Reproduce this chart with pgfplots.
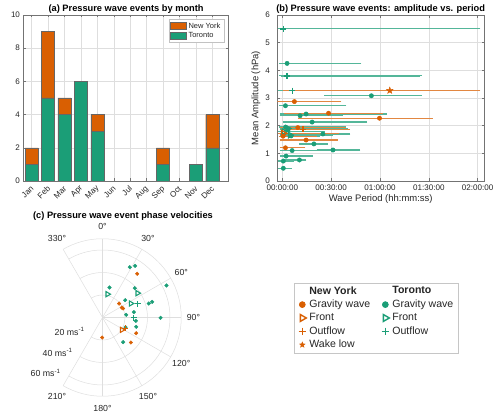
\documentclass[border=0pt]{standalone}
\usepackage{pgfplots}
\pgfplotsset{compat=1.18}
\usepackage{pgfplotstable}
\usetikzlibrary{calc}
\usepackage{fontspec}
\setmainfont{Liberation Sans}
\definecolor{tor}{HTML}{1B9E77}
\definecolor{ny}{HTML}{D95F02}
\definecolor{txt}{gray}{0.15}
\definecolor{gridc}{gray}{0.87}
\definecolor{axc}{gray}{0.45}

\pgfdeclareplotmark{fstar}{%
  \pgfpathmoveto{\pgfpointpolar{90}{\pgfplotmarksize}}%
  \pgfpathlineto{\pgfpointpolar{126}{0.42\pgfplotmarksize}}%
  \pgfpathlineto{\pgfpointpolar{162}{\pgfplotmarksize}}%
  \pgfpathlineto{\pgfpointpolar{198}{0.42\pgfplotmarksize}}%
  \pgfpathlineto{\pgfpointpolar{234}{\pgfplotmarksize}}%
  \pgfpathlineto{\pgfpointpolar{270}{0.42\pgfplotmarksize}}%
  \pgfpathlineto{\pgfpointpolar{306}{\pgfplotmarksize}}%
  \pgfpathlineto{\pgfpointpolar{342}{0.42\pgfplotmarksize}}%
  \pgfpathlineto{\pgfpointpolar{18}{\pgfplotmarksize}}%
  \pgfpathlineto{\pgfpointpolar{54}{0.42\pgfplotmarksize}}%
  \pgfpathclose
  \pgfusepathqfillstroke}

% ---- panel (a): events per month (1=Jan ... 12=Dec)
\pgfplotstableread{
m tor ny
1 1 1
2 5 4
3 4 1
4 6 0
5 3 1
6 0 0
7 0 0
8 0 0
9 1 1
10 0 0
11 1 0
12 2 2
}\monthly

% ---- panel (b): period (min), amplitude (hPa), error-bar extent lo/hi (min)
\pgfplotstableread{
x y lo hi
2.9 4.25 -1.0 47.5
54.7 3.08 27.0 84.6
1.9 2.72 -0.8 38.3
14.6 2.42 -0.4 63.2
10.9 2.36 -0.5 36
18.3 2.13 1.2 51
2.0 1.95 -1.0 38
3.5 1.85 -0.5 40
24.9 1.70 0.6 40.7
5.4 1.63 0.5 22
19.4 1.34 11.5 27
31.1 1.12 22.2 46.9
6.0 1.10 -0.4 26.3
2.3 0.90 -0.5 17.5
10.5 0.76 1.0 13.6
0.6 0.72 -1.8 6
0.6 0.46 -1.5 4.7
}\torgrav
\pgfplotstableread{
x y lo hi
3.3 1.90 -0.5 39
4.75 1.66 -0.5 30
1.0 1.78 -1.5 25
}\torfront
\pgfplotstableread{
x y lo hi
0.6 5.5 -1.85 120.6
2.9 3.80 -1.0 84.6
6.2 3.27 -1.4 112.4
}\torout
\pgfplotstableread{
x y lo hi
7.4 2.87 -1.9 35.2
28.4 2.45 2.3 60.9
59.7 2.27 10.5 91.2
9.5 1.93 -0.5 38
14.6 1.48 -0.5 32.9
1.9 1.20 -0.5 13
0.5 1.62 -1.0 20
}\nygrav
\pgfplotstableread{
x y lo hi
0.6 1.72 -1.5 34
}\nyfront
\pgfplotstableread{
x y lo hi
12.6 1.87 2 40.5
}\nyout
\pgfplotstableread{
x y lo hi
66 3.27 1.2 120.6
}\nywake

% ---- panel (c): direction (deg, clockwise from north), speed (m/s)
\pgfplotstableread{
th r
28.5 50.9
32.3 54.3
13.1 27.4
47.8 38.8
63.4 63.6
52.6 25.4
73.2 43.0
72.5 46.3
80.3 28.3
83.6 21.2
95.7 29.8
90.3 51.6
105.5 31.1
112.8 22.2
140 28.6
}\ptorgrav
\pgfplotstableread{
th r
12.1 21.2
55.2 37.9
63.7 28.1
}\ptorfront
\pgfplotstableread{
th r
68.9 33.7
90.6 27.9
}\ptorout
\pgfplotstableread{
th r
38.4 49.6
50 19.3
62.7 19.3
66.5 20
115 33
181 17.8
131.4 33.6
}\pnygrav
\pgfplotstableread{
th r
122.5 20.4
}\pnyfront
\pgfplotstableread{
th r
115 22.5
}\pnyout

\pgfplotsset{
  myax/.style={
    scale only axis,
    anchor=south west,
    /pgf/number format/assume math mode=true,
    tick label style={font=\fontsize{8.1}{9.5}\selectfont, text=txt},
    label style={font=\fontsize{9.5}{11}\selectfont, text=txt},
    every axis title shift=1bp,
    title style={font=\fontsize{9.3}{11}\selectfont\bfseries, text=black, inner sep=0pt},
    axis line style={axc, line width=0.5bp},
    every tick/.style={axc, line width=0.5bp},
    tick align=inside,
    major tick length=2.5bp,
    grid=major,
    major grid style={gridc, line width=0.5bp},
  },
  errb/.style={
    only marks, #1,
    error bars/x dir=both,
    error bars/x explicit,
    error bars/error bar style={line width=1.3bp, draw=#1!75!white},
    error bars/error mark options={line width=1.2bp, mark size=1.8bp, draw=#1!75!white},
  },
  /pgfplots/table/tab/.style={x=x, y=y, x error plus expr=\thisrow{hi}-\thisrow{x}, x error minus expr=\thisrow{x}-\thisrow{lo}},
  /pgfplots/table/ptab/.style={x expr=\thisrow{r}*sin(\thisrow{th}), y expr=\thisrow{r}*cos(\thisrow{th})},
}

\begin{document}
\begin{tikzpicture}

% ================= (a)
\begin{axis}[myax,
  at={(23.5bp,236bp)}, width=205.2bp, height=166bp,
  ybar stacked, bar width=0.8,
  xmin=0.5, xmax=13, ymin=0, ymax=10,
  xtick={1,...,12},
  xticklabels={Jan,Feb,Mar,Apr,May,Jun,Jul,Aug,Sep,Oct,Nov,Dec},
  xticklabel style={xshift=3bp, yshift=-4bp, rotate=45, anchor=east},
  ytick={0,2,...,10},
  title={(a) Pressure wave events by month},
  reverse legend,
  legend style={at={(0.977,0.976)}, anchor=north east, draw=gridc!70!gray,
    font=\fontsize{7.5}{9}\selectfont, text=txt, row sep=-1.5bp, inner sep=1.5bp},
  legend cell align=left,
  legend image code/.code={\draw[#1] (0bp,-3.5bp) rectangle (15.7bp,3.5bp);},
]
\addplot[fill=tor, draw=black!60, line width=0.4bp] table[x=m, y=tor] {\monthly};
\addlegendentry{Toronto}
\addplot[fill=ny, draw=black!60, line width=0.4bp] table[x=m, y=ny] {\monthly};
\addlegendentry{New York}
\end{axis}

% ================= (b)
\begin{axis}[myax,
  at={(277.3bp,236bp)}, width=206.7bp, height=166bp,
  xmin=-3.1, xmax=123.9, ymin=0, ymax=6,
  xtick={0,30,60,90,120},
  xticklabels={00:00:00,00:30:00,01:00:00,01:30:00,02:00:00},
  ytick={0,1,...,6},
  yticklabel style={xshift=-4bp},
  title={(b) Pressure wave events: amplitude vs. period},
  xlabel={Wave Period (hh:mm:ss)},
  ylabel={Mean Amplitude (hPa)},
  xlabel style={yshift=2bp},
  ylabel style={yshift=-2bp},
]
\addplot[errb=tor, mark=+, mark size=3bp, mark options={line width=1.4bp}] table[tab] {\torout};
\addplot[errb=tor, mark=*, mark size=2.2bp] table[tab] {\torgrav};
\addplot[errb=tor, mark=triangle, mark size=3.2bp, mark options={rotate=-90, line width=1.2bp, fill=none}] table[tab] {\torfront};
\addplot[errb=ny, mark=*, mark size=2.2bp] table[tab] {\nygrav};
\addplot[errb=ny, mark=triangle, mark size=3.5bp, mark options={rotate=-90, line width=1.3bp, fill=none}] table[tab] {\nyfront};
\addplot[errb=ny, mark=+, mark size=3bp, mark options={line width=1.4bp}] table[tab] {\nyout};
\addplot[errb=ny, mark=fstar, mark size=3.6bp, mark options={line width=0.3bp}] table[tab] {\nywake};
\end{axis}

% ================= (c) polar grid
\begin{scope}[x=1bp, y=1bp]
\begin{scope}[gridc, line width=0.5bp]
  \foreach \R in {22.5,45,67.5,78.75} {
    \draw (102.5,99.5) ++(120:\R) arc[start angle=120, end angle=-120, radius=\R];
  }
  \foreach \a in {120,90,60,30,0,-30,-60,-90,-120} {
    \draw (102.5,99.5) -- ++(\a:78.75);
  }
\end{scope}
\begin{scope}[font=\fontsize{8.8}{10}\selectfont, text=txt]
  \foreach \t in {0,30,60,90,120,150,180,210,330} {
    \pgfmathsetmacro{\ang}{90-\t}
    \node at ($(102.5,99.5)+(\ang:91)$) {\t°};
  }
  \node[anchor=east] at (88,85.5) {20 ms\textsuperscript{-1}};
  \node[anchor=east] at (76,64.5) {40 ms\textsuperscript{-1}};
  \node[anchor=east] at (64,44) {60 ms\textsuperscript{-1}};
\end{scope}
\node[font=\fontsize{9.3}{11}\selectfont\bfseries] at (123,201.3) {(c) Pressure wave event phase velocities};
\draw[gray!30, line width=1bp] (294.3,119.3) -- (459.3,119.3);
\end{scope}

\begin{axis}[
  scale only axis, anchor=south west, hide axis,
  at={(6.875bp,9.5bp)}, width=191.25bp, height=180bp,
  xmin=-85, xmax=85, ymin=-80, ymax=80,
]
\addplot[only marks, tor, mark=*, mark size=1.8bp] table[ptab] {\ptorgrav};
\addplot[only marks, tor, mark=triangle, mark size=3bp, mark options={rotate=-90, line width=1.1bp, fill=none}] table[ptab] {\ptorfront};
\addplot[only marks, tor, mark=+, mark size=3bp, mark options={line width=1.2bp}] table[ptab] {\ptorout};
\addplot[only marks, ny, mark=*, mark size=1.8bp] table[ptab] {\pnygrav};
\addplot[only marks, ny, mark=triangle, mark size=3bp, mark options={rotate=-90, line width=1.1bp, fill=none}] table[ptab] {\pnyfront};
\addplot[only marks, ny, mark=+, mark size=3bp, mark options={line width=1.2bp}] table[ptab] {\pnyout};
\end{axis}

% ================= shared legend
\begin{axis}[
  scale only axis, anchor=north west, hide axis,
  at={(294.3bp,134.3bp)}, width=165bp, height=69.6bp,
  xmin=0, xmax=1, ymin=0, ymax=1,
  legend columns=2,
  legend cell align=left,
  legend style={at={(0,1)}, anchor=north west, draw=gray!45, line width=0.6bp,
    font=\fontsize{10.6}{12}\selectfont, text=txt,
    nodes={inner sep=2bp},
    /tikz/every even column/.append style={column sep=8bp},
    row sep=0.4bp, inner xsep=2.7bp, inner ysep=1.5bp},
  legend image code/.code={\path[draw=none] (0bp,-3bp) rectangle (10bp,3bp); \draw[#1] plot coordinates {(5bp,0bp)};},
]
\addlegendimage{empty legend}\addlegendentry{\textbf{New York}}
\addlegendimage{empty legend}\addlegendentry{\textbf{Toronto}}
\addlegendimage{only marks, ny, mark=*, mark size=3bp}\addlegendentry{Gravity wave}
\addlegendimage{only marks, tor, mark=*, mark size=3bp}\addlegendentry{Gravity wave}
\addlegendimage{only marks, ny, mark=triangle, mark size=4bp, mark options={rotate=-90, line width=1.4bp, fill=none}}\addlegendentry{Front}
\addlegendimage{only marks, tor, mark=triangle, mark size=4bp, mark options={rotate=-90, line width=1.4bp, fill=none}}\addlegendentry{Front}
\addlegendimage{only marks, ny, mark=+, mark size=3.8bp, mark options={line width=1.3bp, draw=ny}}\addlegendentry{Outflow}
\addlegendimage{only marks, tor, mark=+, mark size=3.8bp, mark options={line width=1.3bp, draw=tor}}\addlegendentry{Outflow}
\addlegendimage{only marks, ny, mark=fstar, mark size=3bp, mark options={line width=0.3bp}}\addlegendentry{Wake low}
\addlegendimage{empty legend}\addlegendentry{}
\end{axis}

\pgfresetboundingbox
\useasboundingbox (0,0) rectangle (500bp,417bp);
\end{tikzpicture}
\end{document}
